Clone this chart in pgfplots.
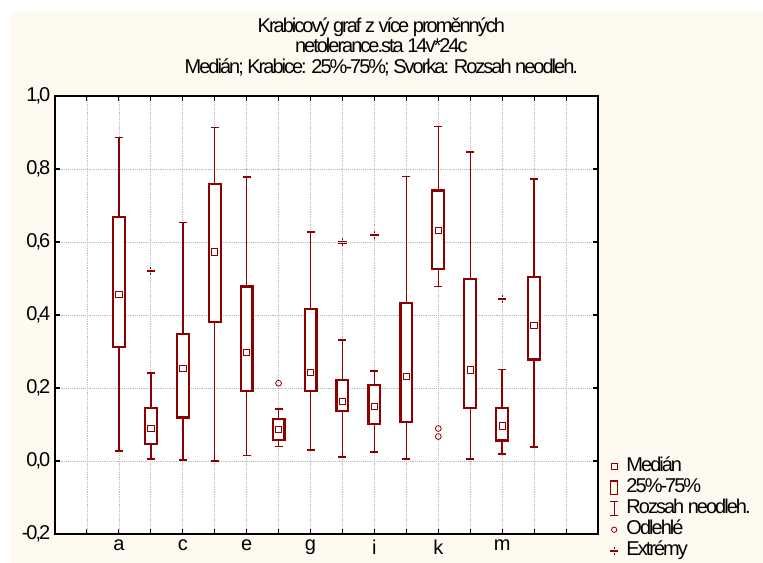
\documentclass[border=0pt]{standalone}
\usepackage{fontspec}
\setmainfont{Liberation Sans}[LetterSpace=-10]
\usepackage{pgfplots}
\pgfplotsset{compat=1.18}
\usepgfplotslibrary{statistics}
\definecolor{statred}{RGB}{140,0,0}
\definecolor{cream}{RGB}{255,250,240}
\pgfdeclareplotmark{extr}{%
  \pgfsetlinewidth{0.6pt}%
  \pgfpathmoveto{\pgfqpoint{-3.2pt}{0.5pt}}\pgfpathlineto{\pgfqpoint{3.2pt}{0.5pt}}%
  \pgfpathmoveto{\pgfqpoint{-3.2pt}{-0.5pt}}\pgfpathlineto{\pgfqpoint{3.2pt}{-0.5pt}}%
  \pgfpathmoveto{\pgfqpoint{0pt}{1.6pt}}\pgfpathlineto{\pgfqpoint{0pt}{3pt}}%
  \pgfpathmoveto{\pgfqpoint{0pt}{-1.6pt}}\pgfpathlineto{\pgfqpoint{0pt}{-3pt}}%
  \pgfusepathqstroke}
\begin{document}
\begin{tikzpicture}
\useasboundingbox[fill=white] (-41.25pt,-21.75pt) rectangle (531pt,400.5pt);
\fill[cream] (-33.75pt,-21.75pt) rectangle (531pt,391.5pt);
\begin{axis}[
  at={(0,0)}, anchor=south west,
  scale only axis, width=407.25pt, height=328.5pt,
  xmin=-1, xmax=16, ymin=-0.2, ymax=1.0,
  xtick={0,...,15},
  xticklabels={,a,,c,,e,,g,,i,,k,,m,,},
  ytick={-0.2,0,0.2,0.4,0.6,0.8,1.0},
  yticklabel style={/pgf/number format/.cd, use comma, fixed, fixed zerofill, precision=1},
  /pgf/number format/assume math mode=true,
  tick label style={font=\fontsize{15}{17}\selectfont, text=black},
  xticklabel style={yshift=-1pt},
  tick align=inside, major tick length=3.75pt,
  every tick/.style={black, line width=0.8pt},
  axis line style={line width=1.1pt},
  grid=major, grid style={densely dotted, gray!55, line width=0.5pt},
  axis background/.style={fill=white},
  title={Krabicový graf z více proměnných\\netolerance.sta 14v*24c\\Medián; Krabice: 25\%-75\%; Svorka: Rozsah neodleh.},
  title style={at={(0.601,1.162)}, anchor=north, align=center, inner sep=0pt, font=\fontsize{15}{15.4}\selectfont},
  legend style={at={(1.009,0.18)}, anchor=north west, draw=none, fill=none,
    font=\fontsize{15}{16}\selectfont, row sep=2.75pt,
    nodes={inner sep=0pt, text height=10pt, text depth=3pt},
    /tikz/every odd column/.append style={column sep=4pt}},
  legend cell align=left,
  boxplot/draw direction=y,
  boxplot/box extend=0.37,
  boxplot/whisker extend=0.25,
  boxplot/every box/.style={draw=statred, fill=white, line width=1.6pt},
  boxplot/every whisker/.style={draw=statred, line width=1.1pt},
  boxplot/draw/median/.code={%
    \path (boxplot box cs:\pgfplotsboxplotvalue{median},0.5)
      node[rectangle, draw=statred, fill=white, line width=0.7pt, minimum size=4.8pt, inner sep=0pt] {};
  },
]
% boxes: draw position, lower whisker, lower quartile, median, upper quartile, upper whisker
\addplot[forget plot, statred, boxplot prepared={draw position=1, lower whisker=0.027, lower quartile=0.313, median=0.457, upper quartile=0.669, upper whisker=0.886}] coordinates {};
\addplot[forget plot, statred, boxplot prepared={draw position=2, lower whisker=0.006, lower quartile=0.047, median=0.089, upper quartile=0.146, upper whisker=0.241}] coordinates {};
\addplot[forget plot, statred, boxplot prepared={draw position=3, lower whisker=0.003, lower quartile=0.119, median=0.253, upper quartile=0.348, upper whisker=0.653}] coordinates {};
\addplot[forget plot, statred, boxplot prepared={draw position=4, lower whisker=0.000, lower quartile=0.381, median=0.573, upper quartile=0.760, upper whisker=0.914}] coordinates {};
\addplot[forget plot, statred, boxplot prepared={draw position=5, lower whisker=0.015, lower quartile=0.192, median=0.297, upper quartile=0.478, upper whisker=0.778}] coordinates {};
\addplot[forget plot, statred, boxplot prepared={draw position=6, lower whisker=0.039, lower quartile=0.058, median=0.086, upper quartile=0.115, upper whisker=0.142}] coordinates {};
\addplot[forget plot, statred, boxplot prepared={draw position=7, lower whisker=0.030, lower quartile=0.192, median=0.242, upper quartile=0.416, upper whisker=0.628}] coordinates {};
\addplot[forget plot, statred, boxplot prepared={draw position=8, lower whisker=0.011, lower quartile=0.138, median=0.163, upper quartile=0.222, upper whisker=0.332}] coordinates {};
\addplot[forget plot, statred, boxplot prepared={draw position=9, lower whisker=0.025, lower quartile=0.102, median=0.149, upper quartile=0.209, upper whisker=0.247}] coordinates {};
\addplot[forget plot, statred, boxplot prepared={draw position=10, lower whisker=0.006, lower quartile=0.108, median=0.231, upper quartile=0.434, upper whisker=0.779}] coordinates {};
\addplot[forget plot, statred, boxplot prepared={draw position=11, lower whisker=0.478, lower quartile=0.526, median=0.631, upper quartile=0.741, upper whisker=0.916}] coordinates {};
\addplot[forget plot, statred, boxplot prepared={draw position=12, lower whisker=0.005, lower quartile=0.145, median=0.249, upper quartile=0.499, upper whisker=0.846}] coordinates {};
\addplot[forget plot, statred, boxplot prepared={draw position=13, lower whisker=0.019, lower quartile=0.056, median=0.096, upper quartile=0.146, upper whisker=0.250}] coordinates {};
\addplot[forget plot, statred, boxplot prepared={draw position=14, lower whisker=0.038, lower quartile=0.278, median=0.371, upper quartile=0.504, upper whisker=0.773}] coordinates {};
% outliers
\addplot[forget plot, only marks, mark=o, mark size=2.2pt, mark options={draw=statred, line width=0.6pt}] coordinates {(6,0.213) (11,0.089) (11,0.067)};
% extremes
\addplot[forget plot, only marks, mark=extr, mark options={draw=statred}] coordinates {(2,0.521) (8,0.599) (9,0.619) (13,0.444)};
% legend
\addlegendimage{legend image code/.code={\path[draw=none] (0pt,-1pt) rectangle (10.5pt,1pt); \draw[statred, line width=0.6pt] (3pt,-2.25pt) rectangle (7.5pt,2.25pt);}}
\addlegendentry{Medián}
\addlegendimage{legend image code/.code={\path[draw=none] (0pt,-1pt) rectangle (10.5pt,1pt); \draw[statred, line width=1.1pt] (2.6pt,-5.2pt) rectangle (7.9pt,5.2pt);}}
\addlegendentry{25\%-75\%}
\addlegendimage{legend image code/.code={\path[draw=none] (0pt,-1pt) rectangle (10.5pt,1pt); \draw[statred, line width=0.8pt] (5.25pt,-5.2pt) -- (5.25pt,5.2pt) (2.5pt,5.2pt) -- (8pt,5.2pt) (2.5pt,-5.2pt) -- (8pt,-5.2pt);}}
\addlegendentry{Rozsah neodleh.}
\addlegendimage{legend image code/.code={\path[draw=none] (0pt,-1pt) rectangle (10.5pt,1pt); \draw[statred, line width=0.6pt] (5.25pt,0pt) circle (2pt);}}
\addlegendentry{Odlehlé}
\addlegendimage{legend image code/.code={\path[draw=none] (0pt,-1pt) rectangle (10.5pt,1pt); \draw[statred, line width=0.6pt] (2pt,0.5pt) -- (8.5pt,0.5pt) (2pt,-0.5pt) -- (8.5pt,-0.5pt) (5.25pt,1.6pt) -- (5.25pt,3pt) (5.25pt,-1.6pt) -- (5.25pt,-3pt);}}
\addlegendentry{Extrémy}
\end{axis}
\end{tikzpicture}
\end{document}
